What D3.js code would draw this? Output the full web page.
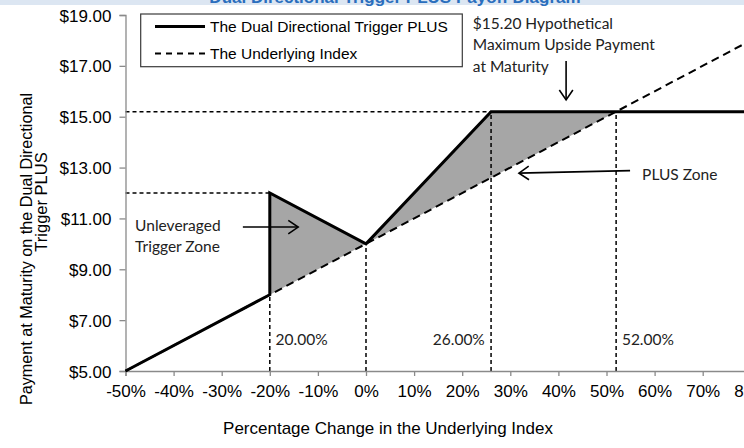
<!DOCTYPE html>
<html>
<head>
<meta charset="utf-8">
<script src="https://cdn.jsdelivr.net/npm/d3@7"></script>
<style>
  html, body { margin: 0; padding: 0; background: #fff; }
  svg { display: block; }
</style>
</head>
<body>
<div id="chart"></div>
<script>
// ---- data ----
const xTicks = [-50, -40, -30, -20, -10, 0, 10, 20, 30, 40, 50, 60, 70, 80];
const yTicks = [5, 7, 9, 11, 13, 15, 17, 19];

// The Dual Directional Trigger PLUS payoff
const plusPct = [-50, -20, -20, 0, 26, 80];
const plusPayment = [5, 8, 12, 10, 15.2, 15.2];

// The Underlying Index
const indexPct = [-50, 80];
const indexPayment = [5, 18];

// Shaded zones
const unlevZonePct = [-20, 0, -20];
const unlevZonePayment = [12, 10, 8];
const plusZonePct = [0, 26, 52];
const plusZonePayment = [10, 15.2, 15.2];

// Reference dashed lines
const hRefPayment = [15.2, 12];
const hRefToPct = [26, -20];
const vRefPct = [-20, 0, 26, 52];
const vRefPayment = [8, 10, 15.2, 15.2];

// Percentage labels
const pctLabels = ["20.00%", "26.00%", "52.00%"];
const pctLabelPos = [-18.8, 24.7, 53.2];
const pctLabelAnchor = ["start", "end", "start"];

const legendLabels = ["The Dual Directional Trigger PLUS", "The Underlying Index"];

// ---- layout ----
const W = 744, H = 448;
const x = d3.scaleLinear().domain([-50, 80]).range([125.5, 125.5 + 130 * 4.81]);
const y = d3.scaleLinear().domain([5, 19]).range([371, 15]);

const svg = d3.select("#chart").append("svg").attr("width", W).attr("height", H);

// top banner with cut-off title
svg.append("rect").attr("x", 0).attr("y", 0).attr("width", W).attr("height", 5).attr("fill", "#dce6f2");
svg.append("text").attr("x", 395).attr("y", 3).attr("text-anchor", "middle")
  .attr("font-family", "Liberation Sans, Arial, sans-serif").attr("font-weight", "bold")
  .attr("font-size", 17).attr("fill", "#2a6ebd")
  .text("Dual Directional Trigger PLUS Payoff Diagram");

const axisColor = "#8a8a8a";

// shaded zones
const pts = (px, py) => px.map((p, i) => [x(p), y(py[i])]);
svg.append("path").attr("d", d3.line()(pts(unlevZonePct, unlevZonePayment)) + "Z").attr("fill", "#a6a6a6");
svg.append("path").attr("d", d3.line()(pts(plusZonePct, plusZonePayment)) + "Z").attr("fill", "#a6a6a6");

// reference dashed lines
const refG = svg.append("g").attr("stroke", "#000").attr("stroke-width", 1.5).attr("stroke-dasharray", "4,3").attr("fill", "none");
hRefPayment.forEach((v, i) => {
  refG.append("line").attr("x1", x(-50)).attr("x2", x(hRefToPct[i])).attr("y1", y(v)).attr("y2", y(v));
});
vRefPct.forEach((p, i) => {
  refG.append("line").attr("x1", x(p)).attr("x2", x(p)).attr("y1", y(5)).attr("y2", y(vRefPayment[i]));
});

// axes
const yAxis = svg.append("g").attr("transform", `translate(${x(-50)},0)`)
  .call(d3.axisLeft(y).tickValues(yTicks).tickSize(6).tickFormat(d => "$" + d3.format(".2f")(d)));
const xAxis = svg.append("g").attr("transform", `translate(0,${y(5)})`)
  .call(d3.axisBottom(x).tickValues(xTicks).tickSize(5).tickFormat(d => d + "%"));
[yAxis, xAxis].forEach(g => {
  g.select(".domain").attr("stroke", axisColor).attr("stroke-width", 1.3);
  g.selectAll(".tick line").attr("stroke", axisColor).attr("stroke-width", 1.3);
  g.selectAll("text").attr("fill", "#000").attr("font-size", 17).attr("font-family", "Liberation Sans, Arial, sans-serif");
});
yAxis.selectAll("text").attr("x", -14).attr("dy", "0.36em");
xAxis.selectAll("text").attr("y", 12).attr("dy", "0.8em");

// underlying index (dashed)
svg.append("path").attr("d", d3.line()(pts(indexPct, indexPayment)))
  .attr("fill", "none").attr("stroke", "#000").attr("stroke-width", 2).attr("stroke-dasharray", "8,5");
// PLUS payoff (solid)
svg.append("path").attr("d", d3.line()(pts(plusPct, plusPayment)))
  .attr("fill", "none").attr("stroke", "#000").attr("stroke-width", 3).attr("stroke-linejoin", "miter");

// percentage labels
const annoFont = "Lato, 'Open Sans', sans-serif";
pctLabels.forEach((t, i) => {
  svg.append("text").attr("x", x(pctLabelPos[i])).attr("y", y(6.02)).attr("text-anchor", pctLabelAnchor[i])
    .attr("font-family", annoFont).attr("font-size", 15.5).attr("fill", "#222").text(t);
});

// annotation texts
const annos = [
  { t: "$15.20 Hypothetical", p: 22.2, v: 18.45 },
  { t: "Maximum Upside Payment", p: 22.2, v: 17.62 },
  { t: "at Maturity", p: 22.2, v: 16.76 },
  { t: "PLUS Zone", p: 57.4, v: 12.51 },
  { t: "Unleveraged", p: -48.0, v: 10.51 },
  { t: "Trigger Zone", p: -48.0, v: 9.68 }
];
annos.forEach(a => {
  svg.append("text").attr("x", x(a.p)).attr("y", y(a.v)).attr("font-family", annoFont)
    .attr("font-size", 15.5).attr("fill", "#222").text(a.t);
});

// arrows (open chevron heads)
const arrows = [
  { p1: 41.6, v1: 17.19, p2: 41.6, v2: 15.66 },
  { p1: 54.9, v1: 12.88, p2: 31.8, v2: 12.78 },
  { p1: -25.6, v1: 10.66, p2: -14.1, v2: 10.66 }
];
arrows.forEach(a => {
  const x1 = x(a.p1), y1 = y(a.v1), x2 = x(a.p2), y2 = y(a.v2);
  const ang = Math.atan2(y2 - y1, x2 - x1);
  const L = 12, spread = 0.6;
  const g = svg.append("g").attr("stroke", "#000").attr("stroke-width", 1.6).attr("fill", "none");
  g.append("line").attr("x1", x1).attr("y1", y1).attr("x2", x2).attr("y2", y2);
  g.append("path").attr("d",
    `M${x2 - L * Math.cos(ang - spread)},${y2 - L * Math.sin(ang - spread)}L${x2},${y2}L${x2 - L * Math.cos(ang + spread)},${y2 - L * Math.sin(ang + spread)}`);
});

// legend
const lg = svg.append("g");
lg.append("rect").attr("x", 140.7).attr("y", 14).attr("width", 321.6).attr("height", 52.7)
  .attr("fill", "#fff").attr("stroke", "#3a3a3a").attr("stroke-width", 1.2);
const legendStyles = [{ w: 3, dash: null }, { w: 2, dash: "6,5" }];
legendLabels.forEach((t, i) => {
  const ly = 26.5 + i * 27;
  const ln = lg.append("line").attr("x1", 155).attr("x2", 205).attr("y1", ly).attr("y2", ly)
    .attr("stroke", "#000").attr("stroke-width", legendStyles[i].w);
  if (legendStyles[i].dash) ln.attr("stroke-dasharray", legendStyles[i].dash);
  lg.append("text").attr("x", 210).attr("y", ly).attr("dy", "0.36em")
    .attr("font-family", "Liberation Sans, Arial, sans-serif").attr("font-size", 15.5).attr("fill", "#000").text(t);
});

// axis titles
svg.append("text").attr("x", 388).attr("y", 434).attr("text-anchor", "middle")
  .attr("font-family", "Liberation Sans, Arial, sans-serif").attr("font-size", 17).attr("fill", "#000")
  .text("Percentage Change in the Underlying Index");
svg.append("text").attr("transform", "translate(32,249) rotate(-90)").attr("text-anchor", "middle")
  .attr("font-family", "Liberation Sans, Arial, sans-serif").attr("font-size", 16.5)
  .attr("textLength", 312).attr("lengthAdjust", "spacingAndGlyphs").attr("fill", "#000")
  .text("Payment at Maturity on the Dual Directional");
svg.append("text").attr("transform", "translate(47,202) rotate(-90)").attr("text-anchor", "middle")
  .attr("font-family", "Liberation Sans, Arial, sans-serif").attr("font-size", 16.5).attr("fill", "#000")
  .text("Trigger PLUS");
</script>
</body>
</html>
